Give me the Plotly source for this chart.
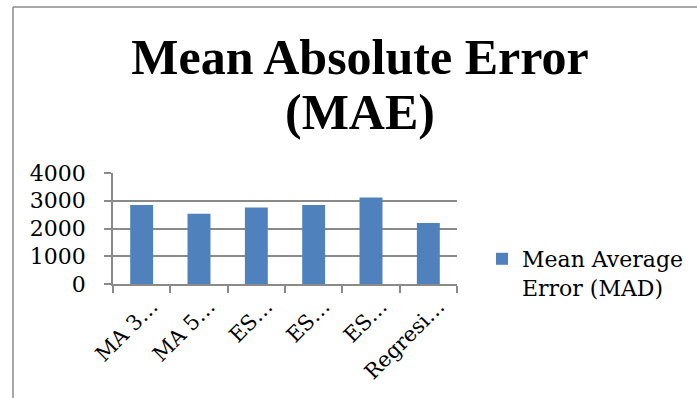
import plotly.graph_objects as go

categories = ["MA 3", "MA 5", "ES 1", "ES 2", "ES 3", "Regresi"]
tick_labels = ["MA 3…", "MA 5…", "ES…", "ES…", "ES…", "Regresi…"]
mad_values = [2850, 2530, 2760, 2850, 3120, 2200]
series_name = "Mean Average<br>Error (MAD)"
title_line1 = "Mean Absolute Error"
title_line2 = "(MAE)"

W, H = 697, 398
L, R, T, B = 113, 457, 173, 284
pw, ph = R - L, B - T

def px_x(x):
    return (x - L) / pw

def px_y(y):
    return (B - y) / ph

TFONT = "Liberation Serif"
FONT = "DejaVu Serif"
GRID = "#8a8a8a"

fig = go.Figure()
fig.add_trace(go.Bar(
    x=categories, y=mad_values, name=series_name,
    marker=dict(color="#4F81BD", line=dict(width=0)),
    showlegend=True,
))

fig.update_layout(
    width=W, height=H,
    margin=dict(l=L, r=W - R, t=T, b=H - B, pad=0, autoexpand=False),
    paper_bgcolor="white", plot_bgcolor="white",
    font=dict(family=FONT, color="black", size=22),
    bargap=0.6,
    showlegend=True,
    title=dict(text="<b>" + title_line1 + "</b>", x=360 / W, xanchor="center",
               y=1 - 39 / H, yanchor="top", yref="container",
               font=dict(family=TFONT, size=50, color="black")),
    legend=dict(x=px_x(482), y=px_y(238), xanchor="left", yanchor="top",
                font=dict(family=FONT, size=22), bgcolor="rgba(0,0,0,0)",
                itemwidth=30, tracegroupgap=0, valign="top"),
    xaxis=dict(
        type="category", tickmode="array", tickvals=categories, ticktext=tick_labels,
        tickson="boundaries", ticks="outside", ticklen=7, tickcolor=GRID, tickwidth=1.5,
        showline=True, linecolor=GRID, linewidth=1.5, showgrid=False,
        tickangle=-45, tickfont=dict(family=FONT, size=21), ticklabelshift=10,
    ),
    yaxis=dict(
        range=[0, 4000], dtick=1000, tick0=0, ticks="outside", ticklen=7,
        tickcolor=GRID, tickwidth=1.5, showline=True, linecolor=GRID, linewidth=1.5,
        showgrid=True, gridcolor=GRID, gridwidth=1.5, zeroline=False,
        tickfont=dict(family=FONT, size=22), ticklabelstandoff=14,
    ),
    annotations=[dict(text="<b>" + title_line2 + "</b>", xref="paper", yref="paper",
                      x=px_x(360), y=px_y(82), xanchor="center", yanchor="top",
                      showarrow=False, font=dict(family=TFONT, size=50, color="black"))],
    shapes=[
        dict(type="line", xref="paper", yref="paper", x0=px_x(13), x1=px_x(W + 5),
             y0=px_y(7), y1=px_y(7), line=dict(color="#8a8a8a", width=1.5)),
        dict(type="line", xref="paper", yref="paper", x0=px_x(13), x1=px_x(13),
             y0=px_y(7), y1=px_y(H + 5), line=dict(color="#8a8a8a", width=1.5)),
    ],
)

fig.write_html("out.html")
